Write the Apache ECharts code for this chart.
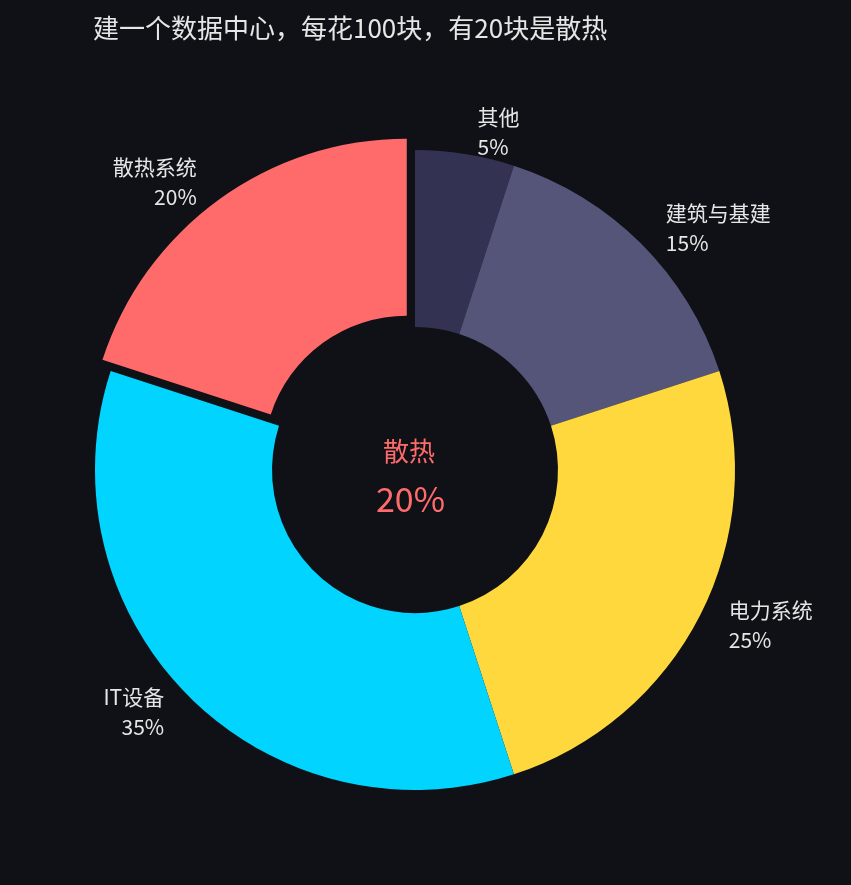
<!DOCTYPE html>
<html><head><meta charset="utf-8">
<script src="https://cdn.jsdelivr.net/npm/echarts@6/dist/echarts.min.js"></script>
<style>html,body{margin:0;background:#0f1116}#c{width:851px;height:885px}</style>
</head><body><div id="c"></div>
<script>
const categories = ['其他','建筑与基建','电力系统','IT设备','散热系统'];
const values = [5,15,25,35,20];
const colors = ['#343252','#55557a','#ffd83d','#00d4ff','#ff6b6b'];
const titleText = '建一个数据中心，每花100块，有20块是散热';
const font = '"Noto Sans CJK SC","Noto Sans",sans-serif';
const chart = echarts.init(document.getElementById('c'));
chart.setOption({
  backgroundColor:'#0f1116',
  title:{text:titleText,left:88,top:10,textStyle:{color:'#e6e6e6',fontSize:26,fontWeight:'normal',fontFamily:font}},
  graphic:[
    {type:'text',left:'center',top:438,style:{text:'散热',fill:'#ff6b6b',font:'26px '+font,x:0},left:383},
    {type:'text',left:376,top:482,style:{text:'20%',fill:'#ff6b6b',font:'34px '+font}}
  ],
  series:[{
    type:'pie',center:[415,470],radius:[143,320],startAngle:90,clockwise:true,
    selectedMode:'single',selectedOffset:14,
    label:{show:true,color:'#e6e6e6',fontSize:21,fontFamily:font,lineHeight:30,
      formatter:p=>p.name+'\n'+p.value+'%'},
    labelLine:{show:false,length:22,length2:4},
    data:categories.map((n,i)=>({name:n,value:values[i],selected:n==='散热系统',itemStyle:{color:colors[i]}}))
  }]
});
</script></body></html>
